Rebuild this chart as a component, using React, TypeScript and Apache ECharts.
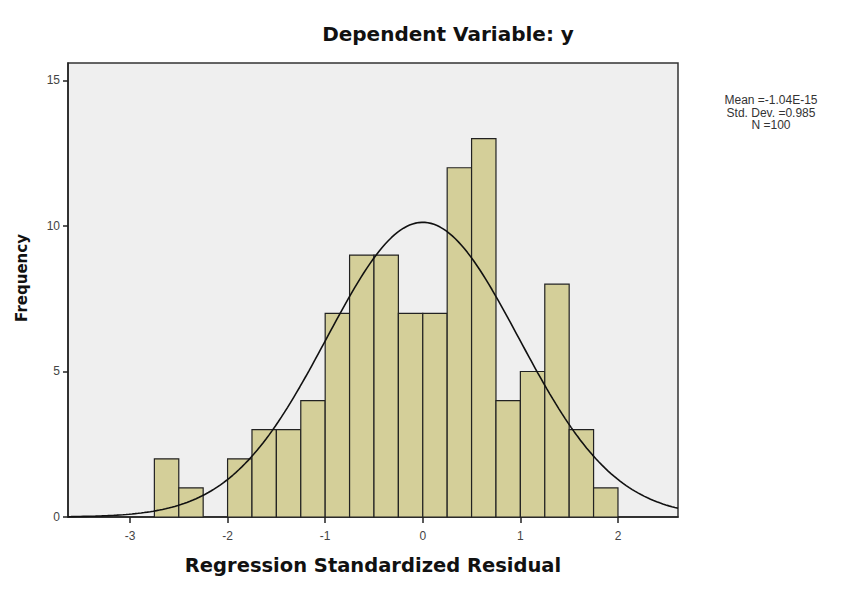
import React, { useEffect, useRef } from "react";
import * as echarts from "echarts";

const binStarts = [-2.75, -2.5, -2.25, -2.0, -1.75, -1.5, -1.25, -1.0, -0.75, -0.5, -0.25, 0.0, 0.25, 0.5, 0.75, 1.0, 1.25, 1.5, 1.75];
const binWidth = 0.25;
const counts = [2, 1, 0, 2, 3, 3, 4, 7, 9, 9, 7, 7, 12, 13, 4, 5, 8, 3, 1];
const xTicks = [-3, -2, -1, 0, 1, 2];
const yTicks = [0, 5, 10, 15];
const statMean = -1.04e-15;
const statSd = 0.985;
const statN = 100;
const statLines = ["Mean =-1.04E-15", "Std. Dev. =0.985", "N =100"];
const titleText = "Dependent Variable: y";
const xName = "Regression Standardized Residual";
const yName = "Frequency";

const BOLD = "DejaVu Sans, Verdana, sans-serif";
const FONT = "Liberation Sans, Arial, sans-serif";

export default function App() {
  const ref = useRef<HTMLDivElement>(null);
  useEffect(() => {
    if (!ref.current) return;
    const chart = echarts.init(ref.current, null, { renderer: "svg" });
    const xMin = -3.635;
    const xMax = 2.615;
    const curve: number[][] = [];
    const steps = 200;
    for (let i = 0; i <= steps; i++) {
      const x = xMin + ((xMax - xMin) * i) / steps;
      const z = (x - statMean) / statSd;
      const y = (statN * binWidth) / (statSd * Math.sqrt(2 * Math.PI)) * Math.exp(-0.5 * z * z);
      curve.push([x, y]);
    }
    const barData = binStarts.map((s, i) => [s, s + binWidth, counts[i]]);
    const statTexts = statLines.map((t, i) => ({
      type: "text",
      x: 771,
      y: 94 + i * 12.5,
      style: {
        text: t,
        fontFamily: FONT,
        fontSize: 12,
        fill: "#333",
        align: "center",
        verticalAlign: "top",
      },
    }));
    chart.setOption({
      animation: false,
      backgroundColor: "#ffffff",
      title: {
        text: titleText,
        left: 443,
        top: 19,
        textAlign: "center",
        textStyle: { fontFamily: BOLD, fontSize: 20, fontWeight: "bold", color: "#111" },
      },
      graphic: [
        ...statTexts,
        {
          type: "text",
          x: 22,
          y: 278,
          rotation: Math.PI / 2,
          style: {
            text: yName,
            fontFamily: BOLD,
            fontSize: 15,
            fontWeight: "bold",
            fill: "#111",
            align: "center",
            verticalAlign: "middle",
          },
        },
      ],
      grid: {
        left: 68,
        right: 171,
        top: 63,
        bottom: 74,
        show: true,
        containLabel: false,
        outerBoundsMode: "none",
        backgroundColor: "#efefef",
        borderColor: "#333",
        borderWidth: 1.5,
      },
      xAxis: {
        type: "value",
        min: xMin,
        max: xMax,
        name: xName,
        nameLocation: "middle",
        nameGap: 38,
        nameTextStyle: { fontFamily: BOLD, fontSize: 19.5, fontWeight: "bold", color: "#111" },
        splitLine: { show: false },
        axisLine: { show: true, onZero: false, lineStyle: { color: "#222", width: 1.5 } },
        axisTick: { show: true, length: 6, customValues: xTicks, lineStyle: { color: "#222", width: 1.5 } },
        axisLabel: { customValues: xTicks, fontFamily: FONT, fontSize: 12, color: "#444", margin: 13 },
      },
      yAxis: {
        type: "value",
        min: 0,
        max: 15.6,
        splitLine: { show: false },
        axisLine: { show: true, onZero: false, lineStyle: { color: "#222", width: 1.5 } },
        axisTick: { show: true, length: 5, customValues: yTicks, lineStyle: { color: "#222", width: 1.5 } },
        axisLabel: { customValues: yTicks, fontFamily: FONT, fontSize: 12, color: "#444", margin: 8 },
      },
      series: [
        {
          type: "custom",
          data: barData,
          encode: { x: [0, 1], y: 2 },
          renderItem: (params: any, api: any) => {
            const x0 = api.value(0);
            const x1 = api.value(1);
            const v = api.value(2);
            if (!v) return null;
            const p0 = api.coord([x0, v]);
            const p1 = api.coord([x1, 0]);
            return {
              type: "rect",
              shape: { x: p0[0], y: p0[1], width: p1[0] - p0[0], height: p1[1] - p0[1] },
              style: { fill: "#d4cf99", stroke: "#222", lineWidth: 1.2 },
            };
          },
        },
        {
          type: "line",
          data: curve,
          showSymbol: false,
          smooth: false,
          lineStyle: { color: "#111", width: 1.6 },
          z: 5,
        },
      ],
    });
    return () => chart.dispose();
  }, []);
  return <div ref={ref} style={{ position: "fixed", left: 0, top: 0, width: 849, height: 591 }} />;
}
